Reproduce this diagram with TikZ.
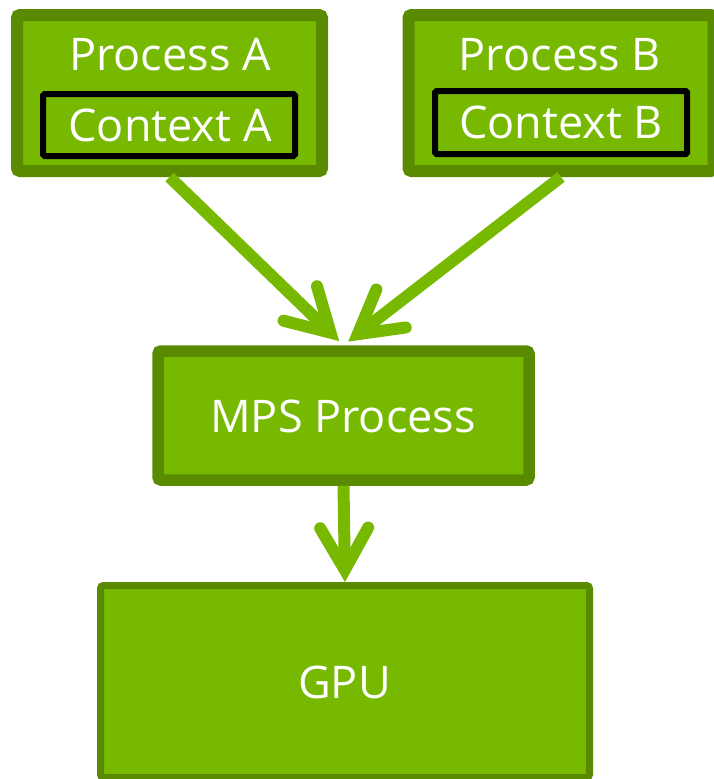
\documentclass[tikz,border=0pt]{standalone}
\usepackage{fontspec}
\setmainfont{Open Sans}
\usetikzlibrary{arrows.meta}
\definecolor{nvgreen}{RGB}{118,185,0}
\definecolor{nvdark}{RGB}{90,138,0}
\tikzset{
  box/.style={draw=nvdark, fill=nvgreen, rounded corners=3pt, inner sep=0pt},
  ctxbox/.style={draw=black, fill=nvgreen, line width=6pt, rounded corners=1.5pt, inner sep=0pt},
  lbl/.style={text=white, font=\fontsize{45}{50}\selectfont, anchor=base, inner sep=0pt},
  flow/.style={draw=nvgreen, line width=12pt, line cap=butt,
    -{Straight Barb[length=42pt, width=48pt, line cap=round, line join=miter]}}
}
\begin{document}
\begin{tikzpicture}[x=1pt, y=-1pt]
\useasboundingbox (0,0) rectangle (714,779);
\clip (0,0) rectangle (714,779);
% boxes
\node[box, line width=12pt, minimum width=305pt, minimum height=156pt] (pa) at (169.5,93) {};
\node[box, line width=12pt, minimum width=305pt, minimum height=156pt] (pb) at (561,93) {};
\node[ctxbox, minimum width=252pt, minimum height=62pt] (ca) at (169,125) {};
\node[ctxbox, minimum width=252pt, minimum height=63pt] (cb) at (561,122.5) {};
\node[box, line width=11.5pt, minimum width=371pt, minimum height=129pt] (mps) at (343.5,415.5) {};
\node[box, line width=7pt, minimum width=489pt, minimum height=192pt] (gpu) at (345,681.5) {};
% labels
\node[lbl] (pat) at (170,70) {Process A};
\node[lbl] (cat) at (170,141.5) {Context A};
\node[lbl] (pbt) at (560,70) {Process B};
\node[lbl] (cbt) at (561,138) {Context B};
\node[lbl] (mpst) at (343,432.5) {MPS Process};
\node[lbl] (gput) at (344.5,698) {GPU};
% connectors
\draw[flow, shorten >=6pt] (pa.south) -- (mps.north);
\draw[flow, shorten >=6pt] (pb.south) -- (mps.north);
\draw[flow] (mps.south) -- (gpu.north);
\end{tikzpicture}
\end{document}
